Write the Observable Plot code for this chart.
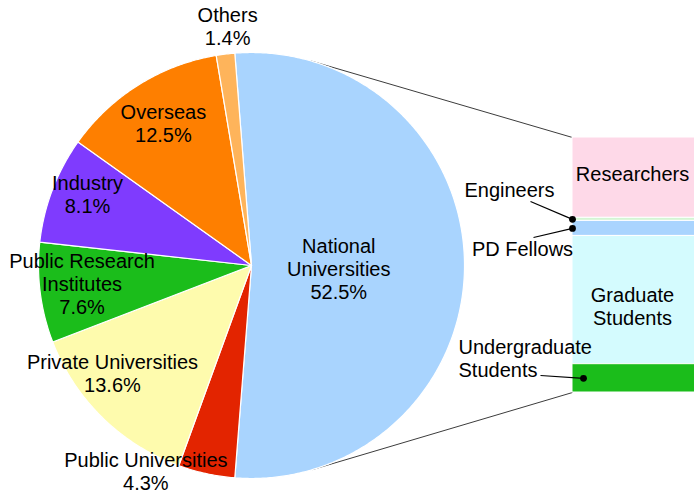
<!DOCTYPE html>
<html>
<head>
<meta charset="utf-8">
<script src="https://cdn.jsdelivr.net/npm/d3@7"></script>
<script src="https://cdn.jsdelivr.net/npm/@observablehq/plot@0.6"></script>
<style>
html, body { margin: 0; padding: 0; background: #fff; overflow: hidden; }
#chart svg { display: block; }
</style>
</head>
<body>
<div id="chart"></div>
<script>
// ---------- Pie data ----------
const sliceNames = ["National Universities", "Public Universities", "Private Universities",
  "Public Research Institutes", "Industry", "Overseas", "Others"];
const sliceValues = [52.5, 4.3, 13.6, 7.6, 8.1, 12.5, 1.4];
const sliceColors = ["#a9d4fe", "#e32400", "#fefbad", "#1bbd1b", "#7f3bfe", "#fe7f00", "#feb45b"];
const sliceLabelText = ["National\nUniversities", "Public Universities", "Private Universities",
  "Public Research\nInstitutes", "Industry", "Overseas", "Others"];

// ---------- Breakdown of National Universities (bar) ----------
const barNames = ["Researchers", "Engineers", "PD Fellows", "Graduate Students", "Undergraduate Students"];
const barValues = [31.5, 1.2, 5.9, 50.3, 11.1];
const barColors = ["#fed9e8", "#d4f5d4", "#a9d4fe", "#d4fbfe", "#1bbd1b"];
const barLabelText = ["Researchers", "Engineers", "PD Fellows", "Graduate\nStudents", "Undergraduate\nStudents"];

// ---------- Layout (pixels) ----------
const W = 694, H = 494;
const CX = 251, CY = 265, R = 213;          // pie centre and radius
const ux = px => (px - CX) / R;             // pixel -> pie units
const uy = py => (CY - py) / R;
// label placement: polar (radius fraction, degrees clockwise from 12 o'clock)
const sliceLabelR = [0.41, 1.085, 0.825, 0.80, 0.84, 0.785, 1.128];
const sliceLabelA = [92, 207.2, 232.3, 263.9, 293.6, 328.2, 354.3];
const barLeftPx = 572, barRightPx = 692, barTopPx = 137, barBottomPx = 392;

// ---------- Geometry from data ----------
const rad = d => d * Math.PI / 180;
const polar = (r, deg) => ({x: r * Math.sin(rad(deg)), y: r * Math.cos(rad(deg))});
const total = d3.sum(sliceValues);
let acc = 90 - sliceValues[0] / total * 180;   // first slice centred on the right
const slicePolys = sliceValues.map((v, i) => {
  const a0 = acc; acc += v / total * 360; const a1 = acc;
  const n = Math.max(2, Math.ceil((a1 - a0) * 2));
  const pts = [{x: 0, y: 0}];
  for (let k = 0; k <= n; k++) pts.push(polar(1, a0 + (a1 - a0) * k / n));
  return pts;
});
const sliceLabels = sliceNames.map((n, i) => ({
  ...polar(sliceLabelR[i], sliceLabelA[i]),
  text: sliceLabelText[i] + "\n" + sliceValues[i].toFixed(1) + "%"
}));

const bx1 = ux(barLeftPx), bx2 = ux(W + 3), bxc = (ux(barLeftPx) + ux(barRightPx)) / 2;
const bTop = uy(barTopPx), bBot = uy(barBottomPx);
const barTotal = d3.sum(barValues);
let cum = 0;
const segs = barValues.map((v, i) => {
  const y1 = bTop - cum / barTotal * (bTop - bBot);
  cum += v;
  const y2 = bTop - cum / barTotal * (bTop - bBot);
  return {name: barNames[i], color: barColors[i], y1, y2, ym: (y1 + y2) / 2};
});

// tangent connectors from the bar corners to the pie
function tangent(bx, by, upper) {
  const d = Math.hypot(bx, by), phi = Math.atan2(by, bx), al = Math.acos(1 / d);
  const t = upper ? phi + al : phi - al;
  return {x: Math.cos(t), y: Math.sin(t)};
}
const tTop = tangent(bx1, bTop, true), tBot = tangent(bx1, bBot, false);
const connectors = [
  {x1: tTop.x, y1: tTop.y, x2: bx1, y2: bTop},
  {x1: tBot.x, y1: tBot.y, x2: bx1, y2: bBot}
];

// inside bar labels (Researchers, Graduate Students)
const innerLabels = [
  {x: bxc, y: segs[0].ym, text: barLabelText[0], dy: -4},
  {x: bxc, y: segs[3].ym, text: barLabelText[3], dy: 6}
];
// outside labels with leader lines (Engineers, PD Fellows, Undergraduate Students)
const outerLabels = [
  {x: ux(509), y: uy(189), text: barLabelText[1], anchor: "middle"},
  {x: ux(522), y: uy(248), text: barLabelText[2], anchor: "middle"},
  {x: ux(458), y: uy(358), text: barLabelText[4], anchor: "start"}
];
const dots = [
  {x: bx1, y: segs[1].ym},
  {x: bx1, y: segs[2].ym},
  {x: ux(583), y: segs[4].ym}
];
const leaderStarts = [[530, 201], [533, 237], [540, 375]];
const leaders = dots.map((d, i) => ({x1: ux(leaderStarts[i][0]), y1: uy(leaderStarts[i][1]), x2: d.x, y2: d.y}));

const font = "'Liberation Sans', Arial, Helvetica, sans-serif";
const textOpts = {x: "x", y: "y", text: "text", fontSize: 20, lineHeight: 1.15, fill: "black", fontFamily: font};

const chart = Plot.plot({
  width: W,
  height: H,
  margin: 0,
  x: {domain: [ux(0), ux(W)], range: [0, W], axis: null},
  y: {domain: [uy(H), uy(0)], range: [H, 0], axis: null},
  color: {type: "identity"},
  style: {fontFamily: font, fontSize: "20px", background: "white", color: "black"},
  marks: [
    Plot.link(connectors, {x1: "x1", y1: "y1", x2: "x2", y2: "y2", stroke: "#3c3c3c", strokeWidth: 1}),
    ...slicePolys.map((pts, i) => Plot.line(pts, {
      x: "x", y: "y", curve: "linear-closed",
      fill: sliceColors[i], stroke: "white", strokeWidth: 1.2, strokeLinejoin: "round"
    })),
    Plot.rect(segs, {x1: () => bx1, x2: () => bx2, y1: "y1", y2: "y2", fill: "color", stroke: "white", strokeWidth: 1}),
    Plot.text(sliceLabels, textOpts),
    Plot.text([innerLabels[0]], {...textOpts, dy: innerLabels[0].dy}),
    Plot.text([innerLabels[1]], {...textOpts, dy: innerLabels[1].dy}),
    Plot.text(outerLabels, {...textOpts, textAnchor: "start", filter: d => d.anchor === "start"}),
    Plot.text(outerLabels, {...textOpts, textAnchor: "middle", filter: d => d.anchor === "middle"}),
    Plot.link(leaders, {x1: "x1", y1: "y1", x2: "x2", y2: "y2", stroke: "black", strokeWidth: 1.2}),
    Plot.dot(dots, {x: "x", y: "y", r: 3.4, fill: "black", stroke: null})
  ]
});
document.getElementById("chart").appendChild(chart);
</script>
</body>
</html>
